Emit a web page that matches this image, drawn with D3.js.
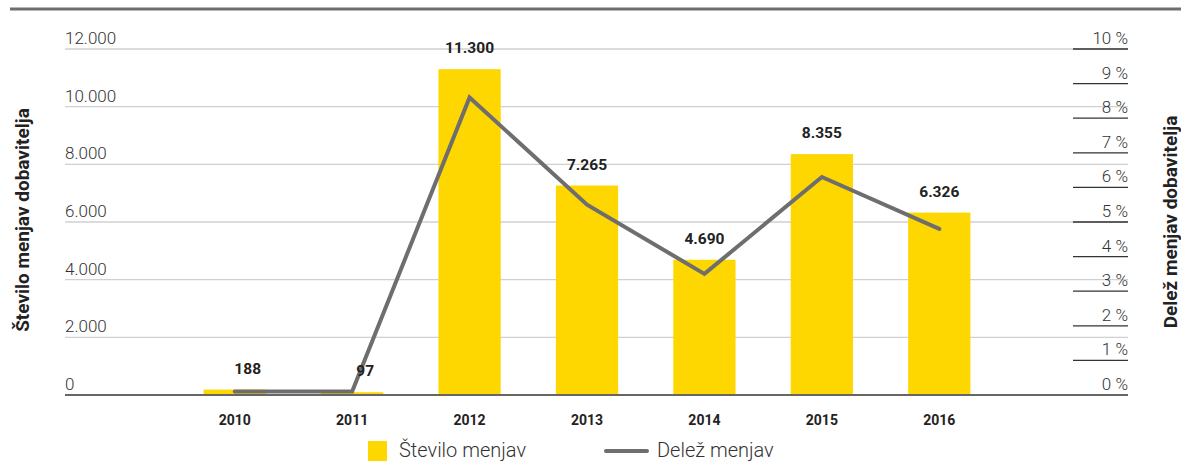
<!DOCTYPE html>
<html>
<head>
<meta charset="utf-8">
<script src="https://cdn.jsdelivr.net/npm/d3@7"></script>
<style>
  body { margin: 0; background: #fff; }
  svg { display: block; font-family: Roboto, "Noto Sans", sans-serif; }
</style>
</head>
<body>
<svg id="canvas"></svg>
<script>
let years = ['2010', '2011', '2012', '2013', '2014', '2015', '2016']
let changes = [188, 97, 11300, 7265, 4690, 8355, 6326]
let share = [0.1, 0.1, 8.6, 5.5, 3.5, 6.3, 4.8]
let leftTicks = [0, 2000, 4000, 6000, 8000, 10000, 12000]
let rightTicks = [0, 1, 2, 3, 4, 5, 6, 7, 8, 9, 10]

let width = 1181
let height = 461
let plotTop = 49, plotBottom = 395
let gridLeft = 65, gridRight = 1128

let yellow = '#ffd700'
let grey = '#6e6e6e'

let svg = d3.select('#canvas').attr('width', width).attr('height', height)

// thousands separator is a dot
let fmt = v => d3.format(',')(v).replace(/,/g, '.')

let xScale = d3.scaleBand().domain(years).range([176, 998]).paddingInner(0.47).paddingOuter(0.235)
let yLeft = d3.scaleLinear().domain([0, 12000]).range([plotBottom, plotTop])
let yRight = d3.scaleLinear().domain([0, 10]).range([plotBottom, plotTop])

// top rule
svg.append('line').attr('x1', 10).attr('x2', width).attr('y1', 9).attr('y2', 9)
  .attr('stroke', grey).attr('stroke-width', 3)

// left gridlines + labels
let gl = svg.append('g')
leftTicks.forEach(t => {
  gl.append('line').attr('x1', gridLeft).attr('x2', gridRight)
    .attr('y1', yLeft(t)).attr('y2', yLeft(t))
    .attr('stroke', t === 0 ? '#666' : '#d0d0d0').attr('stroke-width', t === 0 ? 2 : 1.3)
  gl.append('text').attr('x', gridLeft).attr('y', yLeft(t) - 5)
    .attr('font-size', 17).attr('font-weight', 300).attr('fill', '#333')
    .text(fmt(t))
})

// right axis: short ticks + labels
let gr = svg.append('g')
rightTicks.forEach(t => {
  gr.append('line').attr('x1', 1073).attr('x2', gridRight)
    .attr('y1', yRight(t)).attr('y2', yRight(t))
    .attr('stroke', '#333').attr('stroke-width', 1.3)
  gr.append('text').attr('x', gridRight).attr('y', yRight(t) - 5)
    .attr('text-anchor', 'end')
    .attr('font-size', 17).attr('font-weight', 300).attr('fill', '#333')
    .text(t + ' %')
})

// bars
svg.append('g').selectAll('rect').data(changes).join('rect')
  .attr('x', (d, i) => xScale(years[i]))
  .attr('width', xScale.bandwidth())
  .attr('y', d => yLeft(d))
  .attr('height', d => plotBottom - yLeft(d))
  .attr('fill', yellow)

// baseline redrawn over bars
svg.append('line').attr('x1', gridLeft).attr('x2', gridRight)
  .attr('y1', plotBottom).attr('y2', plotBottom).attr('stroke', '#666').attr('stroke-width', 2)

// share line
let line = d3.line()
  .x((d, i) => xScale(years[i]) + xScale.bandwidth() / 2)
  .y(d => yRight(d))
svg.append('path').datum(share).attr('d', line)
  .attr('fill', 'none').attr('stroke', grey).attr('stroke-width', 4)
  .attr('stroke-linecap', 'round').attr('stroke-linejoin', 'miter')

// value labels (small ones nudged right, clear of the line)
svg.append('g').selectAll('text').data(changes).join('text')
  .attr('x', (d, i) => xScale(years[i]) + xScale.bandwidth() / 2 + (d < 1000 ? 13 : 0))
  .attr('y', d => yLeft(d) - 16)
  .attr('text-anchor', 'middle')
  .attr('font-size', 15.5).attr('font-weight', 700).attr('fill', '#222')
  .text(d => fmt(d))

// x labels
svg.append('g').selectAll('text').data(years).join('text')
  .attr('x', d => xScale(d) + xScale.bandwidth() / 2)
  .attr('y', 425)
  .attr('text-anchor', 'middle')
  .attr('font-size', 14).attr('font-weight', 700).attr('fill', '#222')
  .text(d => d)

// axis titles
svg.append('text').attr('transform', 'translate(29,220) rotate(-90)')
  .attr('text-anchor', 'middle').attr('font-size', 19).attr('font-weight', 700).attr('fill', '#222')
  .text('Število menjav dobavitelja')
svg.append('text').attr('transform', 'translate(1177,222) rotate(-90)')
  .attr('text-anchor', 'middle').attr('font-size', 19).attr('font-weight', 700).attr('fill', '#222')
  .text('Delež menjav dobavitelja')

// legend
let lg = svg.append('g')
lg.append('rect').attr('x', 368).attr('y', 441).attr('width', 19).attr('height', 20).attr('fill', yellow)
lg.append('text').attr('x', 399).attr('y', 457).attr('font-size', 20).attr('font-weight', 300).attr('fill', '#333')
  .text('Število menjav')
lg.append('line').attr('x1', 606).attr('x2', 647).attr('y1', 451).attr('y2', 451)
  .attr('stroke', grey).attr('stroke-width', 4).attr('stroke-linecap', 'round')
lg.append('text').attr('x', 657).attr('y', 457).attr('font-size', 20).attr('font-weight', 300).attr('fill', '#333')
  .text('Delež menjav')
</script>
</body>
</html>
